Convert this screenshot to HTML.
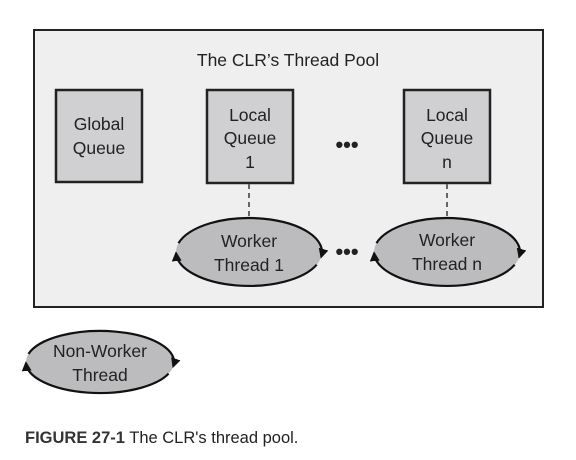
<!DOCTYPE html>
<html><head><style>body{margin:0;background:#fff}svg{display:block}</style></head><body>
<svg width="576" height="460" viewBox="0 0 576 460" xmlns="http://www.w3.org/2000/svg" font-family="Liberation Sans, sans-serif" fill="#222">
<defs><marker id="a" viewBox="0 0 10 10" refX="8" refY="5" markerWidth="4.5" markerHeight="4.5" orient="auto"><path d="M0,0L10,5L0,10z" fill="#111"/></marker></defs>
<rect x="34" y="30" width="509" height="277" fill="#efefef" stroke="#222" stroke-width="2"/>
<text x="288" y="66" font-size="17.5" text-anchor="middle">The CLR’s Thread Pool</text>
<g stroke="#222" stroke-width="2.5" fill="#d0d0d2">
<rect x="56" y="90" width="86" height="92"/>
<rect x="207" y="90" width="86" height="93"/>
<rect x="404" y="90" width="86" height="93"/>
</g>
<g font-size="17.5" text-anchor="middle">
<text x="99" y="130">Global</text><text x="99" y="154">Queue</text>
<text x="250" y="121">Local</text><text x="250" y="144">Queue</text><text x="250" y="168">1</text>
<text x="447" y="121">Local</text><text x="447" y="144">Queue</text><text x="447" y="168">n</text>
</g>
<g stroke="#666" stroke-width="2" stroke-dasharray="5,4"><line x1="249" y1="184" x2="249" y2="217"/><line x1="447" y1="184" x2="447" y2="217"/></g>
<g font-size="22" font-weight="bold" text-anchor="middle"><text x="347" y="152">•••</text><text x="347" y="259">•••</text></g>
<g fill="#bcbcbe"><ellipse cx="249" cy="252" rx="73" ry="34"/><ellipse cx="447" cy="252" rx="73" ry="34"/><ellipse cx="100" cy="362" rx="74" ry="31"/></g>
<g fill="none" stroke="#111" stroke-width="2.2" marker-end="url(#a)">
<path d="M178.5,243.2 A73,34 0 0 1 321.3,256.7"/><path d="M316.7,264.7 A73,34 0 0 1 176.1,253.2"/>
<path d="M376.5,243.2 A73,34 0 0 1 519.3,256.7"/><path d="M514.7,264.7 A73,34 0 0 1 374.1,253.2"/>
<path d="M28.5,354 A74,31 0 0 1 173.3,366.3"/><path d="M168.6,373.6 A74,31 0 0 1 26,363.1"/>
</g>
<g font-size="17.5" text-anchor="middle">
<text x="249" y="247">Worker</text><text x="249" y="271">Thread 1</text>
<text x="447" y="246">Worker</text><text x="447" y="270">Thread n</text>
<text x="100" y="357">Non-Worker</text><text x="100" y="381">Thread</text>
</g>
<text x="25" y="443" font-size="16.5"><tspan font-weight="bold" fill="#333">FIGURE 27-1</tspan>  The CLR's thread pool.</text>
</svg>
</body></html>
